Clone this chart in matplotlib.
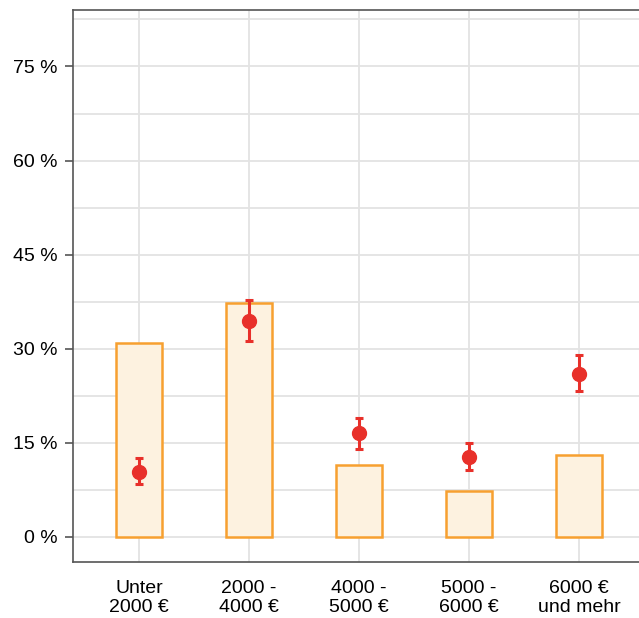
import numpy as np
import matplotlib.pyplot as plt
from matplotlib.ticker import MultipleLocator, FuncFormatter

# Data
categories = ["Unter\n2000 €", "2000 -\n4000 €", "4000 -\n5000 €", "5000 -\n6000 €", "6000 €\nund mehr"]
bar_values = [30.9, 37.3, 11.5, 7.3, 13.0]
point_values = [10.4, 34.4, 16.5, 12.8, 26.0]
err_low = [8.4, 31.3, 14.0, 10.6, 23.2]
err_high = [12.6, 37.7, 19.0, 15.0, 29.0]

plt.rcParams['font.family'] = ['Liberation Sans', 'DejaVu Sans']

fig = plt.figure(figsize=(6.39, 6.18), dpi=100)
ax = fig.add_axes([73 / 639, 56 / 618, 572 / 639, 552 / 618])

x = np.arange(len(categories))

ax.bar(x, bar_values, width=0.41, color="#FDF2E0", edgecolor="#F7A030",
       linewidth=1.8, zorder=2)

pts = np.array(point_values)
yerr = [pts - np.array(err_low), np.array(err_high) - pts]
ax.errorbar(x, pts, yerr=yerr, fmt="o", color="#E8302A", markersize=10,
            elinewidth=2.2, capsize=2.8, capthick=2.2, zorder=3)

ax.set_xlim(-0.6, 4.6)
ax.set_ylim(-4, 84)

ax.yaxis.set_major_locator(MultipleLocator(15))
ax.yaxis.set_minor_locator(MultipleLocator(7.5))
ax.yaxis.set_major_formatter(FuncFormatter(lambda v, p: f"{v:.0f} %"))
ax.set_xticks(x)
ax.set_xticklabels(categories)

ax.grid(True, which="major", color="#E3E3E3", linewidth=1.3, zorder=0)
ax.grid(True, which="minor", axis="y", color="#E3E3E3", linewidth=1.3, zorder=0)
ax.set_axisbelow(True)

for side in ["left", "bottom", "top"]:
    ax.spines[side].set_color("#555555")
    ax.spines[side].set_linewidth(1.2)
ax.spines["right"].set_visible(False)

ax.tick_params(axis="y", which="major", length=6, width=1.2, color="#555555",
               labelsize=14, pad=5)
ax.tick_params(axis="y", which="minor", length=0)
ax.tick_params(axis="x", length=0, labelsize=14, pad=13)
for lbl in ax.get_xticklabels():
    lbl.set_linespacing(1.15)

plt.savefig("out.png", dpi=100)
